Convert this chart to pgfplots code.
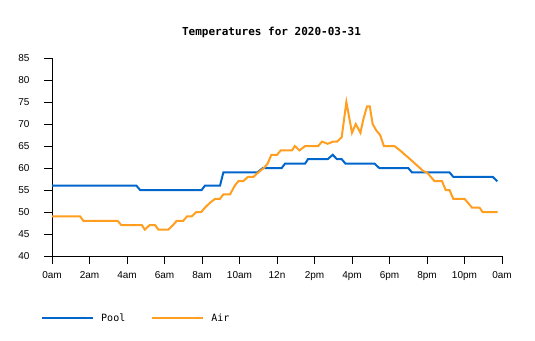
\documentclass[border=0pt]{standalone}
\usepackage{pgfplots}
\pgfplotsset{compat=1.18}
\usepackage{fontspec}
\setmainfont{Liberation Sans}
\newfontfamily\monofont{DejaVu Sans Mono}
\definecolor{poolblue}{RGB}{0,102,204}
\definecolor{airorange}{RGB}{255,158,31}
\begin{document}
\begin{tikzpicture}
\useasboundingbox (0,0) rectangle (535pt,340pt);
\node[font=\monofont\bfseries\fontsize{11}{13}\selectfont] at (271.5pt,308pt) {Temperatures for 2020-03-31};
\begin{axis}[
  at={(52pt,84pt)}, anchor=south west,
  scale only axis, width=450pt, height=198pt,
  xmin=0, xmax=24, ymin=40, ymax=85,
  axis x line*=bottom, axis y line*=left,
  axis line style={-, line width=0.8pt},
  xtick={0,2,...,24},
  xticklabels={0am,2am,4am,6am,8am,10am,12n,2pm,4pm,6pm,8pm,10pm,0am},
  ytick={40,45,...,85},
  xtick pos=bottom, ytick pos=left,
  xtick align=outside, ytick align=outside, major tick length=8pt,
  every major tick/.style={line width=0.9pt, black},
  /pgf/number format/assume math mode=true,
  tick label style={font=\fontsize{10}{12}\selectfont},
  yticklabel style={xshift=-11pt},
  xticklabel style={yshift=-4pt},
  legend style={at={(-0.0244,-0.313)}, anchor=west, draw=none, fill=none,
    legend columns=2, font=\monofont\fontsize{10}{12}\selectfont,
    /tikz/every even column/.append style={column sep=24pt},
    inner sep=0pt},
  legend cell align=left,
  legend image code/.code={\draw[#1] (0pt,0pt) -- (51pt,0pt); \path (56pt,0pt);},
]
\addplot[poolblue, line width=2pt] coordinates {
(0,56) (4.5,56) (4.7,55) (7.98,55) (8.16,56) (8.96,56) (9.14,59) (10.95,59) (11.25,60)
(12.25,60) (12.43,61) (13.5,61) (13.65,62) (14.7,62) (14.97,63) (15.2,62) (15.45,62)
(15.65,61) (17.2,61) (17.45,60) (19.0,60) (19.2,59) (21.2,59) (21.4,58) (23.5,58) (23.75,57)
};
\addlegendentry{Pool}
\addplot[airorange, line width=2pt] coordinates {
(0,49) (1.5,49) (1.67,48) (3.5,48) (3.7,47) (4.8,47) (4.95,46) (5.2,47) (5.5,47) (5.67,46)
(6.2,46) (6.45,47) (6.65,48) (7.0,48) (7.2,49) (7.45,49) (7.7,50) (7.96,50) (8.16,51)
(8.4,52) (8.7,53) (8.96,53) (9.14,54) (9.5,54) (9.62,55) (9.75,56) (9.94,57) (10.2,57)
(10.45,58) (10.75,58) (11.0,59) (11.3,60) (11.5,61) (11.7,63) (12.0,63) (12.2,64)
(12.8,64) (12.95,65) (13.2,64) (13.5,65) (14.2,65) (14.4,66) (14.7,65.5) (15.0,66)
(15.2,66) (15.45,67) (15.7,75) (16.0,68) (16.2,70) (16.45,68) (16.6,71) (16.8,74)
(16.95,74) (17.1,70) (17.3,68.5) (17.5,67.5) (17.7,65) (18.26,65) (18.56,64) (19.1,62)
(19.8,59.3) (20.0,59) (20.4,57) (20.8,57) (21.0,55) (21.2,55) (21.4,53) (22.0,53)
(22.4,51) (22.8,51) (22.96,50) (23.77,50)
};
\addlegendentry{Air}
\end{axis}
\end{tikzpicture}
\end{document}
